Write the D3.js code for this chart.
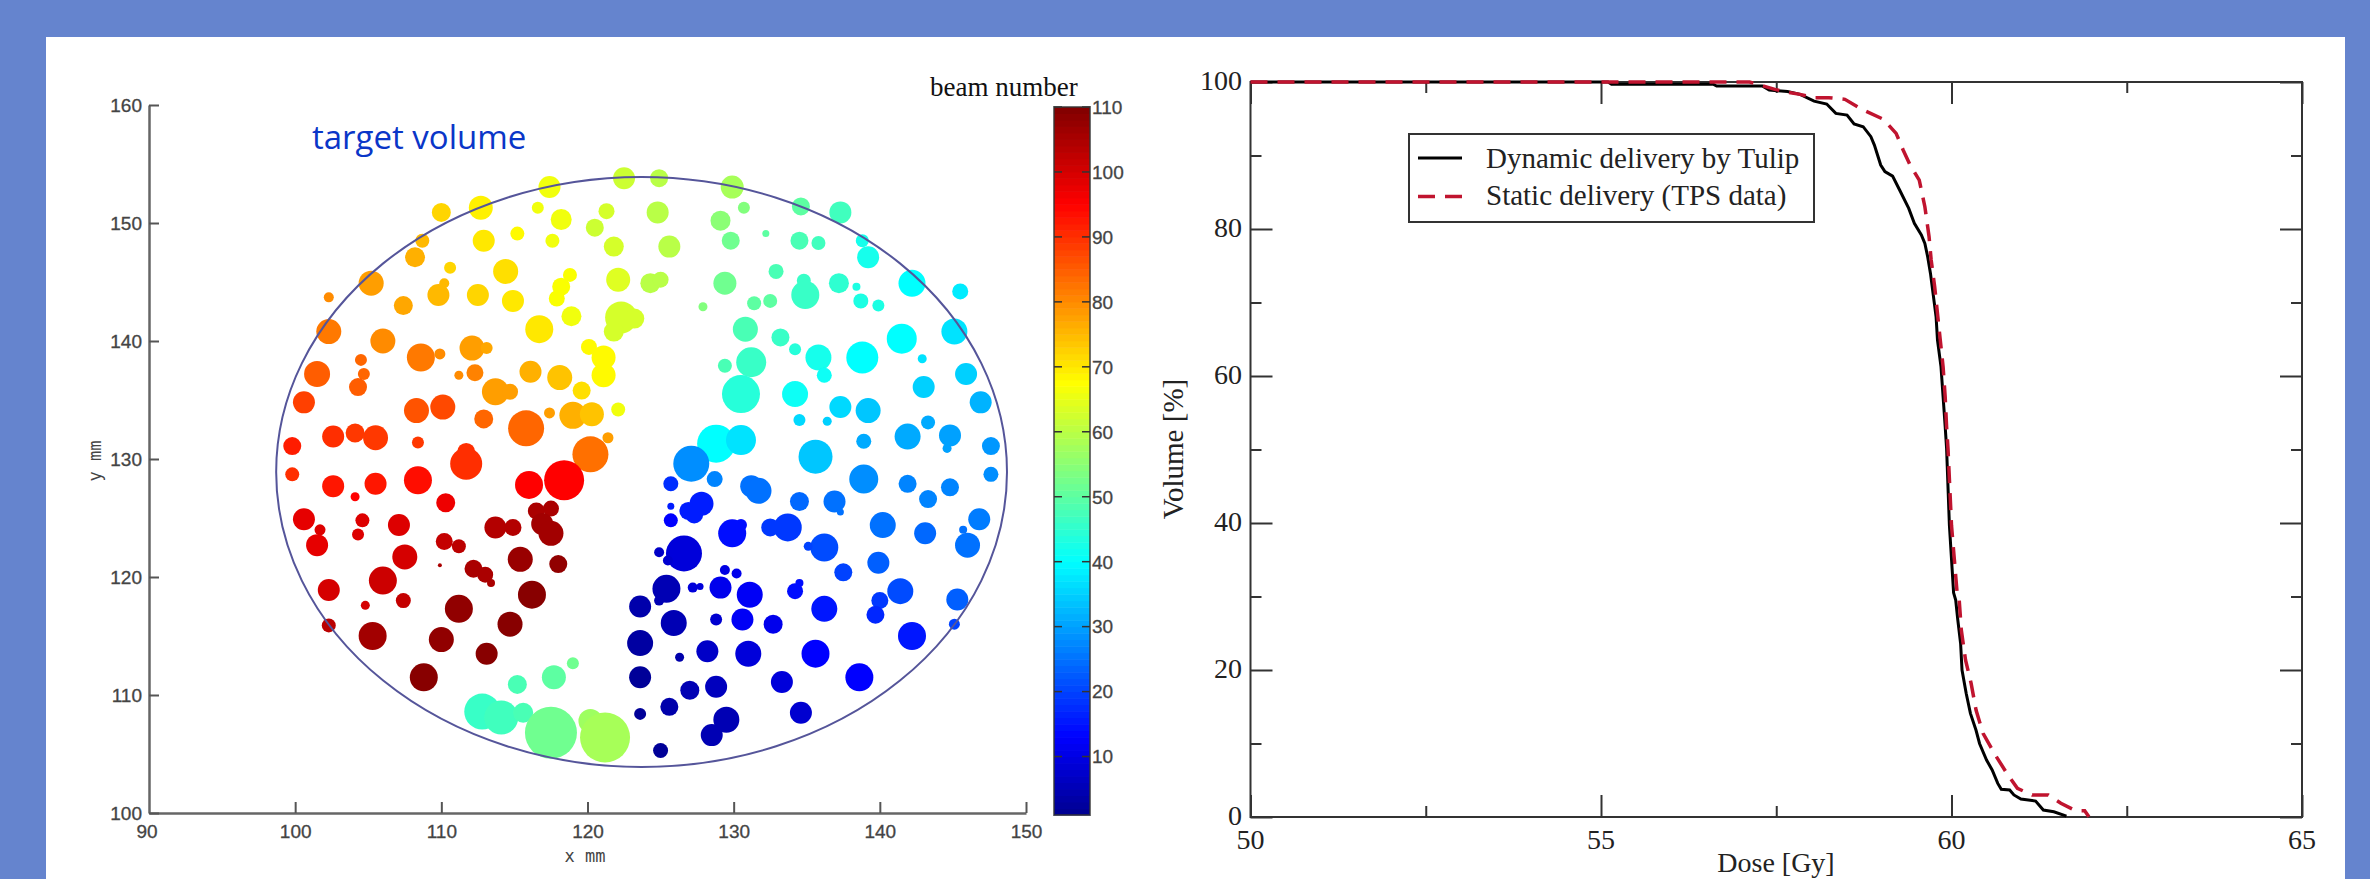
<!DOCTYPE html>
<html>
<head>
<meta charset="utf-8">
<title>Beam spots and dose volume histogram</title>
<script src="https://cdn.jsdelivr.net/npm/d3@7"></script>
<style>
  html, body { margin: 0; padding: 0; background: #6584ce; overflow: hidden; }
  svg { display: block; }
</style>
</head>
<body>
<svg id="chart" width="2370" height="879"></svg>
<script>
// ====================
// LEFT CHART DATA
// ====================
var spotX = [
  117.4,122.5,124.9,112.7,110,116.6,118.2,121.3,120.5,124.8,112.9,115.2,117.6,121.8,125.6,108.7,108.2,110.6,114.4,105.2,
  102.3,110.2,109.8,112.5,114.9,107.4,118.8,118.2,117.9,122.1,124.3,125,118.9,116.7,122.3,123.2,121.8,102.3,106,108.6,
  109.9,112.1,113.1,120.1,121.1,121.1,104.5,104.7,104.3,101.5,112.3,111.2,116.1,118.1,113.7,114.7,119.6,100.6,108.3,110.1,
  112.9,115.8,117.4,119,120.3,122.1,104.1,102.6,105.5,108.4,99.8,120.2,121.4,111.7,111.7,99.8,102.6,105.5,108.4,104.1,
  116,118.4,110.3,100.6,104.6,107.1,101.7,101.5,104.3,110.2,111.2,113.7,114.9,116.5,117.5,116.9,117.5,107.5,115.4,118,
  112.2,113,113.4,109.9,106,102.3,107.4,104.8,116.2,111.2,102.3,114.7,105.3,110,113.1,108.8,
  119,117.7,115.2,112.8,114.1,115.6,117.5,120.2,121.2,
  129.9,130.7,129.1,129.8,132.2,134.5,135.8,134.6,137.3,138.8,139.2,129.4,132.9,134.8,134.9,137.2,138.4,138.7,139.9,142.2,
  145.5,127.9,131.4,132.5,130.8,133.2,134.2,141.5,145.1,129.4,131.2,135.8,136.2,138.8,142.9,145.9,130.5,134.2,143,146.9,
  137.3,139.2,134.5,136.4,143.3,144.8,144.6,141.9,138.9,135.6,128.8,130.5,147.6,127.1,128.7,125.7,138.9,147.6,141.9,144.8,
  131.2,131.7,143.3,134.5,136.9,137.3,127.8,126.9,127.3,125.7,125.7,146.8,140.2,145.7,146,143.1,129.9,130.5,132.5,133.7,
  136.2,135.1,126.6,125.5,124.9,139.9,137.5,129.4,130.2,141.4,134.2,134.5,125.4,124.9,127.2,127.7,129.1,131.1,145.3,123.6,
  136.2,140,139.7,125.9,128.8,130.6,132.7,145.1,142.2,123.6,128.2,131,135.6,126.3,123.6,138.6,133.3,128.8,127,125.6,
  123.6,134.6,129.5,128.5,125
];
var spotY = [
  153.05,153.8,153.8,151.3,150.9,151.3,150.3,151,149.6,150.9,148.5,149.1,148.5,148,148,148.5,147.1,146.2,145.9,144.9,
  143.7,144.9,143.9,143.9,143.4,143,145.6,144.6,143.6,145.2,144.9,145.2,142.1,141,142,141.9,140.8,140.8,140,138.6,
  138.9,139.4,139.4,139.5,138.6,137.1,138.4,137.2,136.1,137.2,137.3,137.1,137.4,136.9,135.7,135.7,135.8,134.8,134.1,134.4,
  133.4,132.6,133.9,133.7,133.8,134.2,132.2,131.9,131.8,131.4,131.1,130.4,131.8,129.6,130.6,128.7,127.7,127.9,128.2,126.8,
  127.8,128.2,126.3,124.9,124.8,124.4,124,122.7,123.6,123,122.6,124.2,124.2,125.6,125.8,124.5,123.7,121.7,121.5,121.1,
  120.7,120.2,119.5,121,119.7,118.9,118,117.6,118.5,117.3,115.9,116,115,114.7,113.5,111.5,
  112.7,111.5,110.9,108.6,108.1,108.5,106.8,107.8,106.4,
  153.05,151.3,150.2,148.5,149.1,148.5,148.3,151.4,150.9,148.5,147.1,144.9,145.9,145.1,143.9,144.9,144.6,143.4,143,144.9,
  144.2,142.9,143.2,143.4,141,140.3,139.3,140.2,140.8,137.9,138.2,138.6,137.1,138.6,138.5,137.2,135.5,135.5,136.1,134.8,
  134.4,134.1,133.3,133.2,133.1,132,130.9,131.9,131.5,130.2,131.3,131.6,131.1,129.6,128.3,127.9,128.3,128.7,127.9,127.6,
  127.7,127.3,126.6,126.4,126.4,125.5,126.2,125.6,125.3,126,124.8,124.9,124.4,124,122.7,123.7,123.7,124.4,124.2,124.2,
  122.5,122.6,122,121.4,122.1,121.2,120.4,120.6,120.3,118.8,118.8,119.5,119,118,119.1,119.2,119.1,118.5,118.1,117.5,
  117.3,118,116.8,116.1,116.4,116.4,116,116,115,114.4,113.7,113.5,113.5,113.2,111.5,111.5,111.1,110.7,110.4,109,
  108.4,108.5,107.9,106.6,105.3
];
var spotBeam = [
  66,62,60,69,72,66,66,63,62,60,70,68,66,63,60,75,76,72,71,78,
  80,75,75,72,70,77,67,67,67,64,60,60,66,70,63,63,63,82,80,82,
  80,78,77,68,68,68,84,84,85,85,81,80,76,74,78,78,71,88,86,87,
  84,84,78,76,74,66,89,90,89,89,92,83,78,90,90,90,93,93,94,95,
  95,95,97,98,99,99,99,98,99,102,103,104,104,105,105,106,106,100,107,108,
  105,105,105,105,101,100,102,100,109,108,103,109,106,108,109,109,
  52,50,48,46,47,48,52,57,58,
  58,54,55,52,50,48,47,50,47,42,42,52,48,46,46,45,43,43,43,40,
  38,54,50,50,48,46,44,40,37,48,46,42,41,40,37,35,44,41,35,32,
  36,34,36,35,31,30,30,31,31,34,40,37,29,28,27,18,28,28,27,27,
  25,25,27,24,25,25,16,16,16,16,13,26,25,25,25,24,14,14,19,19,
  21,20,9,8,7,23,20,10,11,21,14,14,5,5,9,9,11,12,23,4,
  15,19,17,5,8,12,11,20,15,3,7,9,13,4,2,13,9,6,5,4,
  2,8,5,5,2
];
var spotWeight = [
  11,11,9,12,9.5,6,10.5,8,9,11,11,7,7,10,11,7,10,6,12.5,12.5,
  5,5,11,11,11,9.5,7,9,8,12,10,8,10,14,16,10,10,12.5,12.5,14,
  5.5,12.5,6,8,12,12,6,6,9,13,8.5,4.5,11,12.5,13.5,8,9,11,12.5,12.5,
  9.5,18,5.5,13.5,12,7,9.5,11,12.5,6,9,18,5.5,16,9,7,11,11,14,4.5,
  14,20,9.5,11,7,11,5.5,11,6,8.5,7,11,8.5,8.5,8,11,12.5,12.5,12.5,9,
  9,8,4,2,14,11,7.5,4.5,14,14,7,12.5,14,12.5,11,14,
  6,12,9.5,18,17,10,26,12,25,
  11.5,6,10,9,3.5,9,7,9,11,6.5,11,11.5,7.5,7,14,10,4,7.5,6,13.5,
  8,4.5,7,7,12.5,9,6,15,13,7,15,13,7.5,16,4.5,11,19,13,11,11,
  11,12.5,6,4.5,7,11,4.5,13,7.5,17,19,15,9,18,8,7.5,14.5,7.5,9,9,
  11,13,9,9.5,11,3.5,12,9,9,3.5,7,11,13,4,12.5,11,14,6,9,14,
  14,4.5,18,5,5,11,9,5,5,13,8,4,14,5,5,3.5,11,13,11,11,
  13,8.5,9,13,6,11,9.5,5.5,14,13,11,13,14,4.5,11,14,11,11,9.5,9,
  6,11,13,11,7.5
];
var targetCenter = [123.7, 128.9];
var targetRadius = 25;

var spotXTicks = [90, 100, 110, 120, 130, 140, 150];
var spotYTicks = [100, 110, 120, 130, 140, 150, 160];
var beamTicks = [10, 20, 30, 40, 50, 60, 70, 80, 90, 100, 110];
var jetStops = [1, 13, 40, 67.5, 95, 110];
var jetColors = ["#00008f", "#0000ff", "#00ffff", "#ffff00", "#ff0000", "#800000"];

// ====================
// RIGHT CHART DATA
// ====================
var tulipDose = [50,55.1,55.15,56.6,56.65,57.3,57.4,57.66,57.84,58.04,58.22,58.35,58.51,58.61,58.74,58.85,58.9,58.99,59.05,59.16,59.26,59.39,59.47,59.57,59.62,59.66,59.7,59.74,59.78,59.8,59.85,59.88,59.91,59.93,59.97,60.03,60.06,60.09,60.13,60.15,60.21,60.27,60.35,60.4,60.5,60.58,60.66,60.71,60.83,60.89,60.99,61.2,61.31,61.46,61.64];
var tulipVolume = [100,100,99.7,99.7,99.45,99.45,98.9,98.7,98.32,97.4,97,95.73,95.5,94.28,93.92,92.56,91.42,88.7,87.8,87.2,85.3,82.8,80.77,79.18,78.05,76.23,73.96,71,68.07,64.9,61.27,57.18,53.1,50.16,39.7,30.5,29.52,26.8,23.6,20,16.8,14.1,11.8,10,7.75,6.4,4.57,3.76,3.67,3,2.45,2.17,0.95,0.72,0.13];
var staticDose = [50,57.12,57.48,57.66,57.84,58.04,58.25,58.48,58.72,59.03,59.21,59.31,59.41,59.54,59.62,59.68,59.71,59.76,59.8,59.84,59.88,59.91,59.93,59.95,60,60.08,60.11,60.14,60.2,60.28,60.35,60.45,60.61,60.79,60.94,61.15,61.38,61.56,61.77,61.9,61.96];
var staticVolume = [100,100,99,98.6,98.32,97.87,97.87,97.64,96.28,94.92,93.01,90.75,88.7,86.66,83.03,78.95,75.78,72.15,68.52,64.89,61.27,57.18,53.1,50.16,39.7,30.5,29.52,25.44,21.36,18.18,14.55,11.38,8.66,5.94,3.9,3,3,1.86,0.86,0.86,0.04];

var doseMajor = [50, 55, 60, 65];
var doseMinor = [52.5, 57.5, 62.5];
var volumeMajor = [0, 20, 40, 60, 80, 100];
var volumeMinor = [10, 30, 50, 70, 90];
var legendLabels = ["Dynamic delivery by Tulip", "Static delivery (TPS data)"];

// ########
// # MAIN #
// ########
var svg = d3.select("#chart");

// the source picture is a soft jpeg, so the spots get a slight blur
svg.append("defs").append("filter")
  .attr("id", "soft")
  .append("feGaussianBlur").attr("stdDeviation", 0.7);

svg.append("rect").attr("width", 2370).attr("height", 879).attr("fill", "#6584ce");
svg.append("rect").attr("x", 46).attr("y", 37).attr("width", 2299).attr("height", 842).attr("fill", "#ffffff");

var sans = "'Liberation Sans', Arial, sans-serif";
var serif = "'Liberation Serif', 'Times New Roman', serif";
var grey = "#444444";

// =============================
// LEFT CHART: SPOTS IN TARGET
// =============================
var x = d3.scaleLinear().domain([90, 150]).range([149, 1026]);
var y = d3.scaleLinear().domain([100, 160]).range([813, 105]);
var r = d3.scaleLinear().domain([0, 26]).range([0, 26]);
var color = d3.scaleLinear().domain(jetStops).range(jetColors).clamp(true);

var spots = spotX.map(function (d, i) {
  return { x: d, y: spotY[i], beam: spotBeam[i], weight: spotWeight[i] };
});

svg.append("g")
  .attr("filter", "url(#soft)")
  .selectAll("circle")
  .data(spots)
  .enter().append("circle")
  .attr("cx", function (d) { return x(d.x); })
  .attr("cy", function (d) { return y(d.y); })
  .attr("r", function (d) { return r(d.weight); })
  .attr("fill", function (d) { return color(d.beam); });

svg.append("ellipse")
  .attr("cx", x(targetCenter[0]))
  .attr("cy", y(targetCenter[1]))
  .attr("rx", x(targetCenter[0] + targetRadius) - x(targetCenter[0]))
  .attr("ry", y(targetCenter[1] - targetRadius) - y(targetCenter[1]))
  .attr("fill", "none")
  .attr("stroke", "#55559a")
  .attr("stroke-width", 2);

var xAxis = svg.append("g")
  .attr("transform", "translate(0," + y(100) + ")")
  .call(d3.axisBottom(x).tickValues(spotXTicks.slice(1)).tickSize(-11).tickSizeOuter(0).tickFormat(d3.format("d")));
var yAxis = svg.append("g")
  .attr("transform", "translate(" + x(90) + ",0)")
  .call(d3.axisLeft(y).tickValues(spotYTicks).tickSize(-10).tickSizeOuter(0).tickFormat(d3.format("d")));

[xAxis, yAxis].forEach(function (axis) {
  axis.selectAll("line").attr("stroke", "#555555").attr("stroke-width", 2);
  axis.select(".domain").attr("stroke", "#666666").attr("stroke-width", 2.5);
  axis.selectAll("text").attr("font-family", sans).attr("font-size", 19).attr("fill", grey)
    .attr("stroke", grey).attr("stroke-width", 0.3);
});
xAxis.selectAll("text").attr("y", 0).attr("dy", "25px");
yAxis.selectAll("text").attr("x", -7).attr("dy", ".34em");

svg.append("text")
  .attr("x", x(90) - 2).attr("y", 838)
  .attr("text-anchor", "middle")
  .attr("font-family", sans).attr("font-size", 19).attr("fill", grey)
  .attr("stroke", grey).attr("stroke-width", 0.3)
  .text(spotXTicks[0]);

svg.append("text")
  .attr("x", 585).attr("y", 862)
  .attr("text-anchor", "middle")
  .attr("font-family", "'DejaVu Sans Mono', monospace").attr("font-size", 17).attr("fill", grey)
  .text("x mm");

svg.append("text")
  .attr("transform", "translate(101,461) rotate(-90)")
  .attr("text-anchor", "middle")
  .attr("font-family", "'DejaVu Sans Mono', monospace").attr("font-size", 17).attr("fill", grey)
  .text("y mm");

svg.append("text")
  .attr("x", 312).attr("y", 149)
  .attr("font-family", "'Open Sans', sans-serif").attr("font-size", 33).attr("fill", "#0a36c8")
  .text("target volume");

// ====================
// COLOR BAR
// ====================
var barY = d3.scaleLinear().domain([1, 110]).range([815, 107]);
var barLeft = 1054, barRight = 1090;

svg.append("g")
  .selectAll("rect")
  .data(d3.range(1, 110))
  .enter().append("rect")
  .attr("x", barLeft)
  .attr("width", barRight - barLeft)
  .attr("y", function (d) { return barY(d + 1); })
  .attr("height", function (d) { return barY(d) - barY(d + 1) + 0.5; })
  .attr("fill", function (d) { return color(d + 0.5); });

svg.append("rect")
  .attr("x", barLeft).attr("y", barY(110))
  .attr("width", barRight - barLeft).attr("height", barY(1) - barY(110))
  .attr("fill", "none").attr("stroke", "#333333").attr("stroke-opacity", 0.7).attr("stroke-width", 2);

var barTicks = svg.append("g").selectAll("g").data(beamTicks).enter().append("g");
barTicks.append("line")
  .attr("x1", barLeft).attr("x2", barLeft + 8)
  .attr("y1", barY).attr("y2", barY)
  .attr("stroke", "#333333").attr("stroke-width", 1.5);
barTicks.append("line")
  .attr("x1", barRight - 8).attr("x2", barRight)
  .attr("y1", barY).attr("y2", barY)
  .attr("stroke", "#333333").attr("stroke-width", 1.5);
barTicks.append("text")
  .attr("x", barRight + 2)
  .attr("y", barY)
  .attr("dy", ".36em")
  .attr("font-family", sans).attr("font-size", 19).attr("fill", grey)
  .attr("stroke", grey).attr("stroke-width", 0.3)
  .text(function (d) { return d; });

svg.append("text")
  .attr("x", 930).attr("y", 96)
  .attr("font-family", serif).attr("font-size", 27).attr("fill", "#111111")
  .text("beam number");

// =============================
// RIGHT CHART: DVH
// =============================
var xd = d3.scaleLinear().domain([50, 65]).range([1250.5, 2302]);
var yd = d3.scaleLinear().domain([0, 100]).range([817, 82]);
var frame = "#333333";

svg.append("rect")
  .attr("x", xd(50)).attr("y", yd(100))
  .attr("width", xd(65) - xd(50)).attr("height", yd(0) - yd(100))
  .attr("fill", "none").attr("stroke", frame).attr("stroke-width", 2);

// ticks on all four sides, so two axes per direction
function styleTicks(g) {
  g.select(".domain").remove();
  g.selectAll("line").attr("stroke", frame).attr("stroke-width", 2);
  g.selectAll("text").remove();
}
function addTicks(axisFn, scale, translate, values, size) {
  svg.append("g")
    .attr("transform", translate)
    .call(axisFn(scale).tickValues(values).tickSize(size))
    .call(styleTicks);
}
var bottomPos = "translate(0," + yd(0) + ")", topPos = "translate(0," + yd(100) + ")";
var leftPos = "translate(" + xd(50) + ",0)", rightPos = "translate(" + xd(65) + ",0)";

addTicks(d3.axisBottom, xd, bottomPos, doseMajor, -22);
addTicks(d3.axisBottom, xd, bottomPos, doseMinor, -11);
addTicks(d3.axisTop, xd, topPos, doseMajor, -22);
addTicks(d3.axisTop, xd, topPos, doseMinor, -11);
addTicks(d3.axisLeft, yd, leftPos, volumeMajor, -22);
addTicks(d3.axisLeft, yd, leftPos, volumeMinor, -11);
addTicks(d3.axisRight, yd, rightPos, volumeMajor, -22);
addTicks(d3.axisRight, yd, rightPos, volumeMinor, -11);

svg.append("g").selectAll("text").data(doseMajor).enter().append("text")
  .attr("x", xd).attr("y", 849)
  .attr("text-anchor", "middle")
  .attr("font-family", serif).attr("font-size", 28).attr("fill", "#222222")
  .text(function (d) { return d; });

svg.append("g").selectAll("text").data(volumeMajor).enter().append("text")
  .attr("x", 1242).attr("y", yd)
  .attr("dy", ".3em")
  .attr("text-anchor", "end")
  .attr("font-family", serif).attr("font-size", 28).attr("fill", "#222222")
  .text(function (d) { return d; });

svg.append("text")
  .attr("x", 1776).attr("y", 872)
  .attr("text-anchor", "middle")
  .attr("font-family", serif).attr("font-size", 28).attr("fill", "#222222")
  .text("Dose [Gy]");

svg.append("text")
  .attr("transform", "translate(1183,449) rotate(-90)")
  .attr("text-anchor", "middle")
  .attr("font-family", serif).attr("font-size", 29).attr("fill", "#222222")
  .text("Volume [%]");

var line = d3.line()
  .x(function (d) { return xd(d[0]); })
  .y(function (d) { return yd(d[1]); });

svg.append("path")
  .datum(d3.zip(tulipDose, tulipVolume))
  .attr("d", line)
  .attr("fill", "none").attr("stroke", "#000000").attr("stroke-width", 3);

svg.append("path")
  .datum(d3.zip(staticDose, staticVolume))
  .attr("d", line)
  .attr("fill", "none").attr("stroke", "#c0142f").attr("stroke-width", 3.5)
  .attr("stroke-dasharray", "17,10");

// ====================
// LEGEND
// ====================
svg.append("rect")
  .attr("x", 1409).attr("y", 134).attr("width", 405).attr("height", 88)
  .attr("fill", "#ffffff").attr("stroke", frame).attr("stroke-width", 2);

svg.append("line")
  .attr("x1", 1418).attr("x2", 1462).attr("y1", 158).attr("y2", 158)
  .attr("stroke", "#000000").attr("stroke-width", 3);
svg.append("line")
  .attr("x1", 1418).attr("x2", 1462).attr("y1", 196.5).attr("y2", 196.5)
  .attr("stroke", "#c0142f").attr("stroke-width", 3.5).attr("stroke-dasharray", "17,10");

svg.append("g").selectAll("text").data(legendLabels).enter().append("text")
  .attr("x", 1486)
  .attr("y", function (d, i) { return i === 0 ? 168 : 205; })
  .attr("font-family", serif).attr("font-size", 29).attr("fill", "#222222")
  .text(function (d) { return d; });
</script>
</body>
</html>
